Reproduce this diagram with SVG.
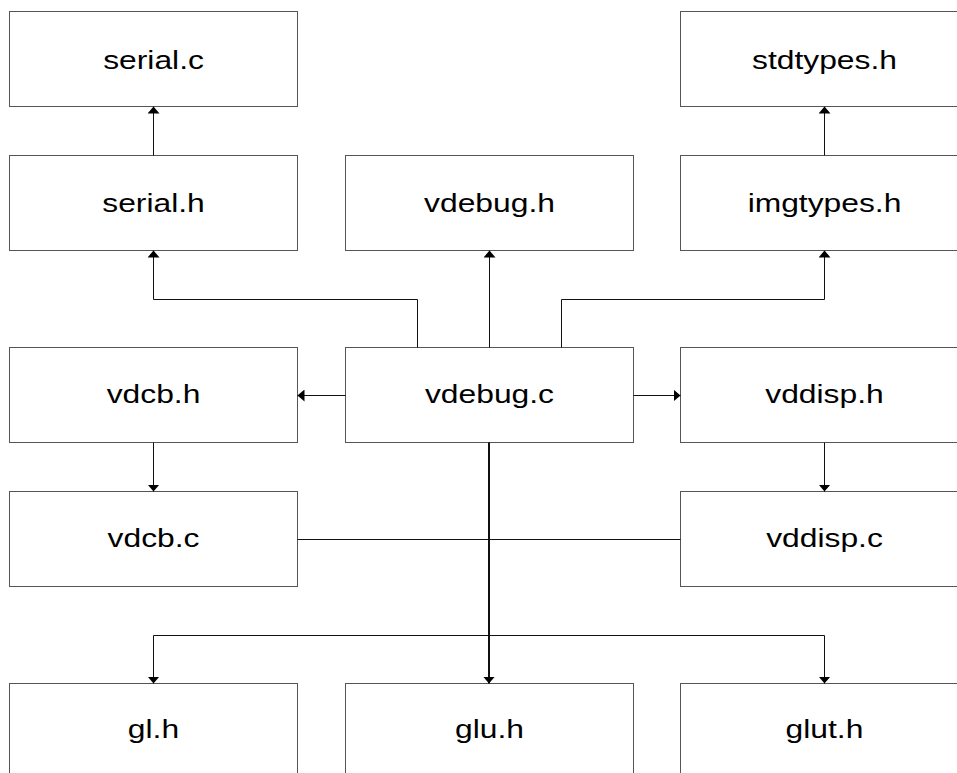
<svg xmlns="http://www.w3.org/2000/svg" width="957" height="773" viewBox="0 0 957 773">
<style>
.box{fill:#fff;stroke:#555;stroke-width:1}
.lbl{font-family:"Liberation Sans",Arial,sans-serif;font-size:26.5px;fill:#000;text-anchor:middle}
.edge{fill:none;stroke:#111;stroke-width:1}
</style>
<defs>
<marker id="arr" viewBox="0 -6 7 12" refX="7" refY="0" markerWidth="7" markerHeight="12" markerUnits="userSpaceOnUse" orient="auto">
<path d="M0,-6 L7,0 L0,6 z" fill="#000"/>
</marker>
</defs>
<rect width="957" height="773" fill="#fff"/>
<g id="nodes">
<g id="serial_c"><rect class="box" x="9.5" y="11.5" width="288" height="95"/><text class="lbl" transform="translate(153.5,68.5) scale(1.2,1)">serial.c</text></g>
<g id="stdtypes_h"><rect class="box" x="680.5" y="11.5" width="288" height="95"/><text class="lbl" transform="translate(824.5,68.5) scale(1.2,1)">stdtypes.h</text></g>
<g id="serial_h"><rect class="box" x="9.5" y="155.5" width="288" height="95"/><text class="lbl" transform="translate(153.5,212) scale(1.2,1)">serial.h</text></g>
<g id="vdebug_h"><rect class="box" x="345.5" y="155.5" width="288" height="95"/><text class="lbl" transform="translate(489.5,212) scale(1.2,1)">vdebug.h</text></g>
<g id="imgtypes_h"><rect class="box" x="680.5" y="155.5" width="288" height="95"/><text class="lbl" transform="translate(824.5,212) scale(1.2,1)">imgtypes.h</text></g>
<g id="vdcb_h"><rect class="box" x="9.5" y="347.5" width="288" height="95"/><text class="lbl" transform="translate(153.5,403) scale(1.2,1)">vdcb.h</text></g>
<g id="vdebug_c"><rect class="box" x="345.5" y="347.5" width="288" height="95"/><text class="lbl" transform="translate(489.5,403) scale(1.2,1)">vdebug.c</text></g>
<g id="vddisp_h"><rect class="box" x="680.5" y="347.5" width="288" height="95"/><text class="lbl" transform="translate(824.5,403) scale(1.2,1)">vddisp.h</text></g>
<g id="vdcb_c"><rect class="box" x="9.5" y="491.5" width="288" height="95"/><text class="lbl" transform="translate(153.5,547) scale(1.2,1)">vdcb.c</text></g>
<g id="vddisp_c"><rect class="box" x="680.5" y="491.5" width="288" height="95"/><text class="lbl" transform="translate(824.5,547) scale(1.2,1)">vddisp.c</text></g>
<g id="gl_h"><rect class="box" x="9.5" y="683.5" width="288" height="95"/><text class="lbl" transform="translate(153.5,737.5) scale(1.2,1)">gl.h</text></g>
<g id="glu_h"><rect class="box" x="345.5" y="683.5" width="288" height="95"/><text class="lbl" transform="translate(489.5,737.5) scale(1.2,1)">glu.h</text></g>
<g id="glut_h"><rect class="box" x="680.5" y="683.5" width="288" height="95"/><text class="lbl" transform="translate(824.5,737.5) scale(1.2,1)">glut.h</text></g>
</g>
<g id="connectors">
<path class="edge" d="M153.5,155.5 V106.5" marker-end="url(#arr)"/>
<path class="edge" d="M824.5,155.5 V106.5" marker-end="url(#arr)"/>
<path class="edge" d="M417.5,347.5 V299.5 H153.5 V250.5" marker-end="url(#arr)"/>
<path class="edge" d="M489.5,347.5 V250.5" marker-end="url(#arr)"/>
<path class="edge" d="M561.5,347.5 V299.5 H824.5 V250.5" marker-end="url(#arr)"/>
<path class="edge" d="M345.5,395.5 H297.5" marker-end="url(#arr)"/>
<path class="edge" d="M633.5,395.5 H680.5" marker-end="url(#arr)"/>
<path class="edge" d="M153.5,442.5 V491.5" marker-end="url(#arr)"/>
<path class="edge" d="M824.5,442.5 V491.5" marker-end="url(#arr)"/>
<path class="edge" d="M297.5,539.5 H680.5"/>
<path class="edge" d="M489.5,442.5 V635.5 H153.5 V683.5" marker-end="url(#arr)"/>
<path class="edge" d="M489,442.5 V683.5" marker-end="url(#arr)" style="stroke-width:2"/>
<path class="edge" d="M489.5,442.5 V635.5 H824.5 V683.5" marker-end="url(#arr)"/>
</g>
</svg>
